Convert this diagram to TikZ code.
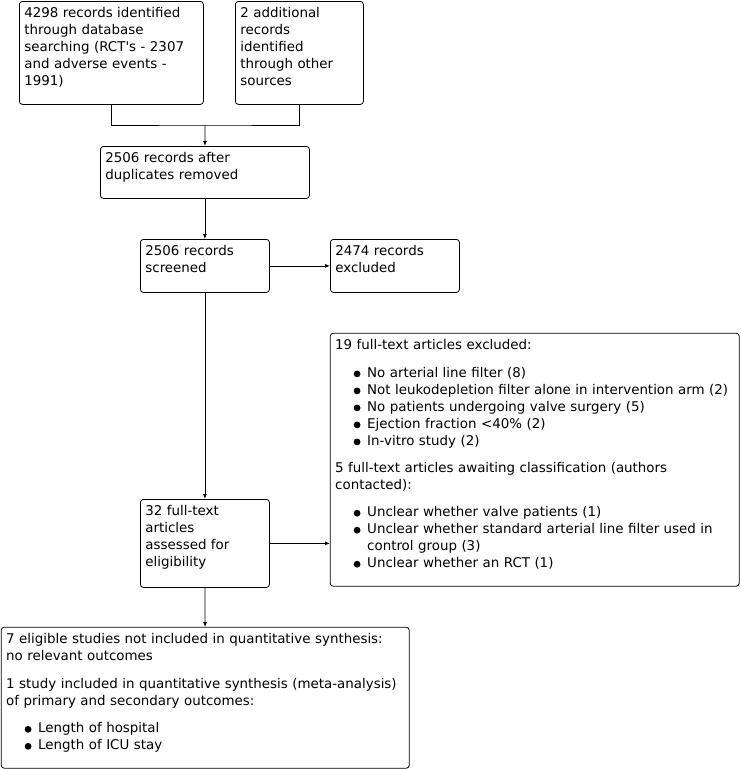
\documentclass[tikz,border=0pt]{standalone}
\usepackage{fontspec}
\setmainfont{DejaVu Sans}
\usetikzlibrary{arrows.meta}
\newcommand{\bul}{\hspace*{18.5pt}\makebox[13.5pt][l]{\tikz[baseline=0pt]\fill (3.4pt,3.5pt) circle (3.4pt);}}
\newcommand{\cont}{\hspace*{32pt}}
\tikzset{
  box/.style={draw, rounded corners=3pt, anchor=north west, align=left, inner sep=5pt,
    text height=11.5pt, font=\fontsize{13.4}{17}\selectfont},
  arr/.style={-{Latex[length=5pt,width=4pt]}}
}

\begin{document}
\begin{tikzpicture}[x=1pt, y=-1pt, line width=0.8pt]
            \useasboundingbox (0,0) rectangle (741,769);
            \node[box, text width=174pt, text depth=81.5pt] (search) at (19,1)
              {4298 records identified\\ through database\\ searching (RCT\textquotesingle s - 2307\\ and adverse events -\\ 1991)};
            \node[box, text width=118pt, text depth=81.5pt] (other) at (235,1)
              {2 additional\\ records\\ identified\\ through other\\ sources};
            \node[box, text width=199pt, text depth=30.5pt] (dedup) at (100,146)
              {2506 records after\\ duplicates removed};
            \node[box, text width=119pt, text depth=31.5pt] (screened) at (140,239)
              {2506 records\\ screened};
            \node[box, text width=119pt, text depth=31.5pt] (excluded) at (330,239)
              {2474 records\\ excluded};
            \node[box, text width=399pt, text depth=231.5pt] (ftexcl) at (330,333)
              {19 full-text articles excluded:\\[10.7pt]
               \bul No arterial line filter (8)\\
               \bul Not leukodepletion filter alone in intervention arm (2)\\
               \bul No patients undergoing valve surgery (5)\\
               \bul Ejection fraction <40\% (2)\\
               \bul In-vitro study (2)\\[9.6pt]
               5 full-text articles awaiting classification (authors\\ contacted):\\[10.7pt]
               \bul Unclear whether valve patients (1)\\
               \bul Unclear whether standard arterial line filter used in\\
               \cont control group (3)\\
               \bul Unclear whether an RCT (1)};
            \node[box, text width=119pt, text depth=66.5pt] (eligible) at (140,499)
              {32 full-text\\ articles\\ assessed for\\ eligibility};
            \node[box, text width=398pt, text depth=119.5pt] (included) at (1,627)
              {7 eligible studies not included in quantitative synthesis:\\ no relevant outcomes\\[10.4pt]
               1 study included in quantitative synthesis (meta-analysis)\\ of primary and secondary outcomes:\\[10.7pt]
               \bul Length of hospital\\
               \bul Length of ICU stay};
            \coordinate (join) at (205,125);
            \draw (search.south) |- (join) -| (other.south);
            \draw[arr] (join) -- (dedup);
            \draw[arr] (dedup) -- (screened);
            \draw[arr] (screened) -- (excluded);
            \draw[arr] (screened) -- (eligible);
            \draw[arr] (eligible.east) -- (eligible.east -| ftexcl.west);
            \draw[arr] (eligible) -- (included);
        \end{tikzpicture}
\end{document}
